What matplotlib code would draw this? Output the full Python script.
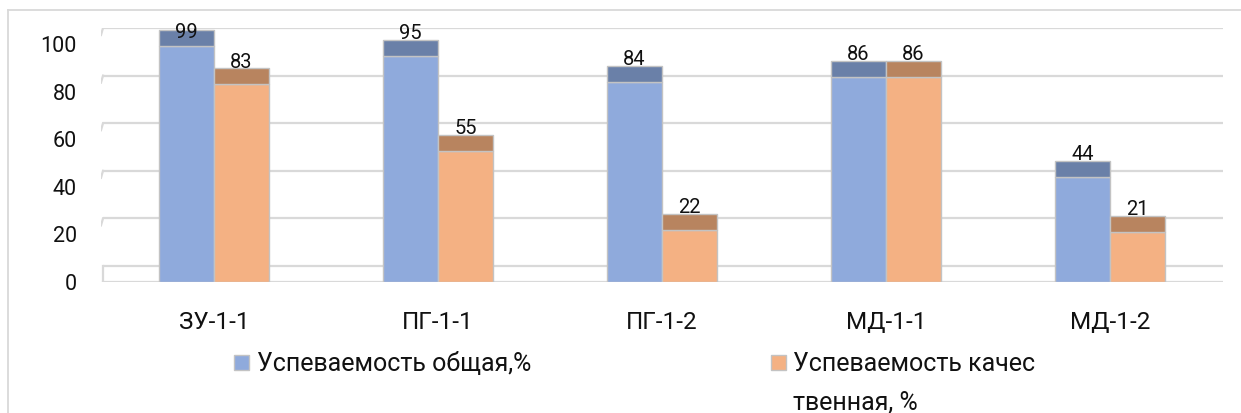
import matplotlib
matplotlib.use("Agg")
import matplotlib.pyplot as plt
from matplotlib.patches import Rectangle
from matplotlib.lines import Line2D

plt.rcParams['font.family'] = ['Roboto', 'DejaVu Sans']

categories = ["ЗУ-1-1", "ПГ-1-1", "ПГ-1-2", "МД-1-1", "МД-1-2"]
overall = [99, 95, 84, 86, 44]
quality = [83, 55, 22, 86, 21]
series_names = ["Успеваемость общая,%", "Успеваемость качес\nтвенная, %"]
yticks = [0, 20, 40, 60, 80, 100]

W, H = 1241, 414
fig = plt.figure(figsize=(W / 100, H / 100), dpi=100)

# axes area in pixels (front plane): x 101..1223, y 283 (0) .. 29
x0, x1 = 101, 1223
y_bot, y_top = 283, 29
ax = fig.add_axes([x0 / W, 1 - y_bot / H, (x1 - x0) / W, (y_bot - y_top) / H])
px_per_unit = 2.38
ymax = (y_bot - y_top) / px_per_unit
ax.set_ylim(0, ymax)
ax.set_xlim(-0.504, 4.504)
ax.axis('off')

depth = 16 / px_per_unit  # 3D depth in value units
grid_c = '#D9D9D9'
dx_unit = 5.008 / (x1 - x0)  # data units per pixel in x

# back wall gridlines with small side-wall slants
for v in yticks:
    yb = v + depth
    ax.plot([-0.504 + 2 * dx_unit, 4.504], [yb, yb], color=grid_c, lw=1.6,
            solid_capstyle='butt', zorder=1)
    if v > 0:
        ax.plot([-0.504 + 2 * dx_unit, -0.504], [yb, yb - 7 / px_per_unit],
                color=grid_c, lw=1.6, zorder=1)
# floor front edge and left edge
ax.plot([-0.504 + 2 * dx_unit, 4.504], [0, 0], color=grid_c, lw=1.6, zorder=1)
ax.plot([-0.504 + 2 * dx_unit, -0.504 + 2 * dx_unit], [0, depth], color=grid_c,
        lw=1.6, zorder=1)

w = 0.2455
xs = range(len(categories))
front_cols = ['#8FAADC', '#F4B183']
cap_cols = ['#6A80A8', '#B8845F']
edge = '#C3C3C3'
for si, vals in enumerate([overall, quality]):
    off = -w / 2 if si == 0 else w / 2
    pos = [x + off for x in xs]
    ax.bar(pos, vals, w, color=front_cols[si], edgecolor=edge, lw=1, zorder=3)
    ax.bar(pos, [depth] * len(vals), w, bottom=vals, color=cap_cols[si],
           edgecolor=edge, lw=1, zorder=3)
    for p, v in zip(pos, vals):
        yl = min(v + depth + 0.8, 102.9)
        ax.text(p, yl, str(v), ha='center', va='baseline', fontsize=14.5,
                color='#111111', zorder=5)

# y tick labels
for v in yticks:
    fig.text(77 / W, 1 - (y_bot - v * px_per_unit + 7) / H, str(v), ha='right',
             va='baseline', fontsize=15.5, color='#111111')

# category labels
for i, c in enumerate(categories):
    xp = x0 + (i + 0.504) / dx_unit
    fig.text(xp / W, 1 - 329 / H, c, ha='center', va='baseline', fontsize=17.5,
             color='#111111')

# legend
fs_leg = 18
fig.patches.append(Rectangle((234 / W, 1 - 371 / H), 15 / W, 15 / H,
                             transform=fig.transFigure, facecolor=front_cols[0],
                             edgecolor='#C3C3C3', lw=1))
fig.text(257 / W, 1 - 371 / H, series_names[0], ha='left', va='baseline',
         fontsize=fs_leg, color='#111111')
fig.patches.append(Rectangle((771 / W, 1 - 371 / H), 15 / W, 15 / H,
                             transform=fig.transFigure, facecolor=front_cols[1],
                             edgecolor='#C3C3C3', lw=1))
l1, l2 = series_names[1].split('\n')
fig.text(793 / W, 1 - 371 / H, l1, ha='left', va='baseline', fontsize=fs_leg,
         color='#111111')
fig.text(793 / W, 1 - 410 / H, l2, ha='left', va='baseline', fontsize=fs_leg,
         color='#111111')

# chart area border (top and left)
fig.lines.append(Line2D([8 / W, 1], [1 - 11 / H, 1 - 11 / H],
                        transform=fig.transFigure, color='#D9D9D9', lw=1.3))
fig.lines.append(Line2D([8 / W, 8 / W], [1 - 11 / H, 0],
                        transform=fig.transFigure, color='#D9D9D9', lw=1.3))

fig.savefig('out.png', dpi=100)
